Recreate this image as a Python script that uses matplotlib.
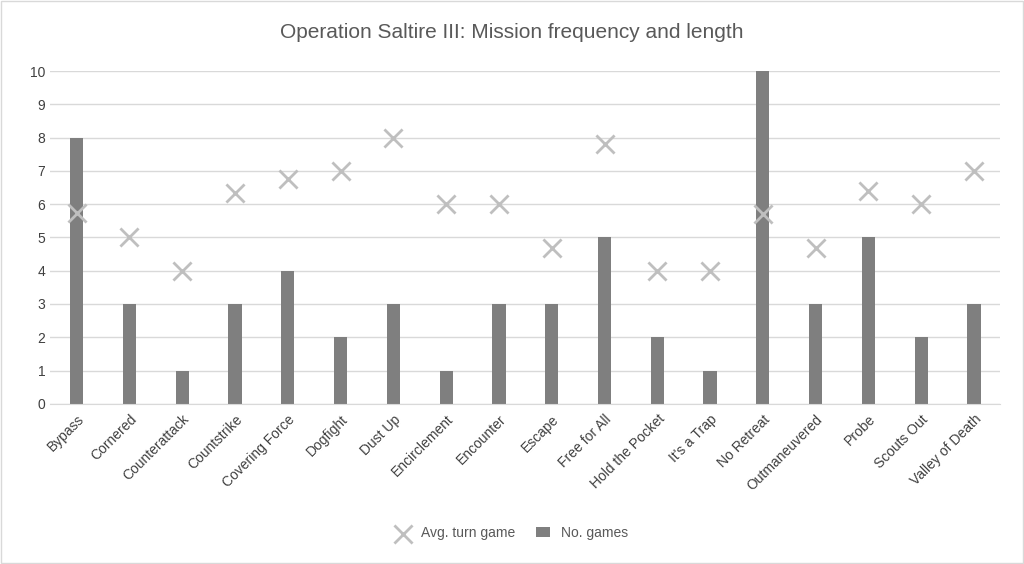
import matplotlib
matplotlib.use("Agg")
import matplotlib.pyplot as plt
import numpy as np

missions = ["Bypass", "Cornered", "Counterattack", "Countstrike", "Covering Force", "Dogfight",
            "Dust Up", "Encirclement", "Encounter", "Escape", "Free for All", "Hold the Pocket",
            "It's a Trap", "No Retreat", "Outmaneuvered", "Probe", "Scouts Out", "Valley of Death"]
games = [8, 3, 1, 3, 4, 2, 3, 1, 3, 3, 5, 2, 1, 10, 3, 5, 2, 3]
avg_turns = [5.73, 5.0, 4.0, 6.33, 6.75, 7.0, 8.0, 6.0, 6.0, 4.67, 7.8, 4.0, 4.0, 5.7, 4.67, 6.4, 6.0, 7.0]

plt.rcParams['font.family'] = ['Liberation Sans', 'DejaVu Sans']
fig = plt.figure(figsize=(10.24, 5.64), dpi=100)
fig.patches.append(plt.Rectangle((0.001, 0.001), 0.998, 0.997, transform=fig.transFigure,
                                 fill=False, edgecolor="#d9d9d9", linewidth=1))
ax = fig.add_axes([0.049, 0.284, 0.928, 0.59])

x = np.arange(len(missions))
ax.bar(x, games, width=0.25, color="#7f7f7f", label="No. games", zorder=2)
ax.scatter(x, avg_turns, marker="x", s=170, color="#bfbfbf", linewidths=2,
           label="Avg. turn game", zorder=3)

ax.set_xlim(-0.5, len(missions) - 0.5)
ax.set_ylim(0, 10)
ax.set_yticks(range(11))
ax.set_xticks(x)
ax.set_xticklabels(missions, rotation=45, ha="right", rotation_mode="anchor")
ax.tick_params(axis="both", length=0, labelsize=10, colors="#404040")
ax.tick_params(axis="x", pad=6)
ax.grid(axis="y", color="#d9d9d9", linewidth=1, zorder=0)
for s in ["top", "right", "left"]:
    ax.spines[s].set_visible(False)
ax.spines["bottom"].set_color("#d9d9d9")

fig.suptitle("Operation Saltire III: Mission frequency and length", y=0.96,
             fontsize=15, color="#595959")
fig.legend(loc="lower center", bbox_to_anchor=(0.5, 0.02), ncol=2, frameon=False,
           fontsize=10, labelcolor="#595959", handlelength=1, columnspacing=1.5)

fig.savefig("out.png", dpi=100)
